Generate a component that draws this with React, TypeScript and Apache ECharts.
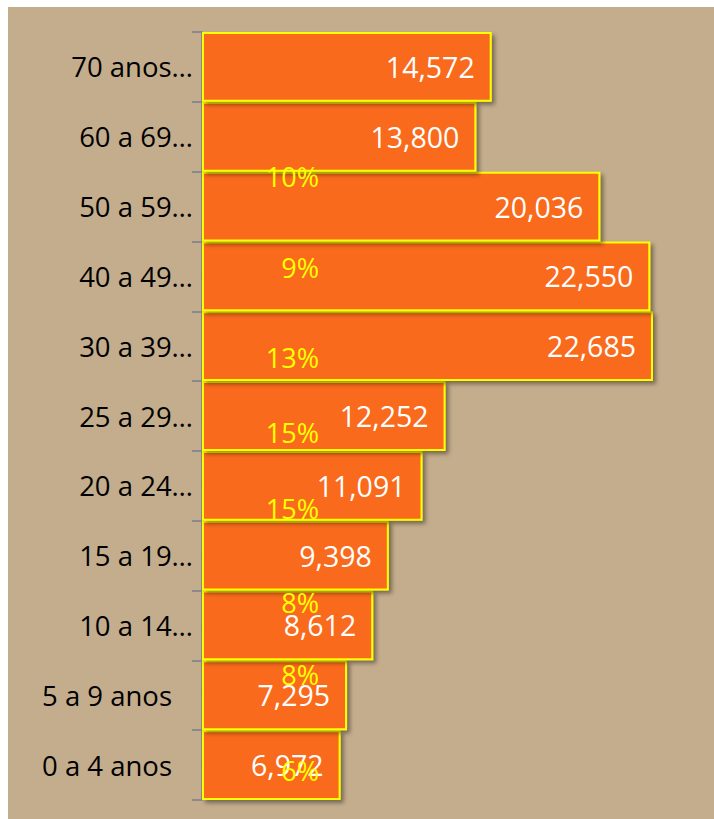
import React, { useEffect, useRef } from "react";
import * as echarts from "echarts";

const categories = [
  "0 a 4 anos",
  "5 a 9 anos",
  "10 a 14…",
  "15 a 19…",
  "20 a 24…",
  "25 a 29…",
  "30 a 39…",
  "40 a 49…",
  "50 a 59…",
  "60 a 69…",
  "70 anos…",
];
const population = [6972, 7295, 8612, 9398, 11091, 12252, 22685, 22550, 20036, 13800, 14572];
const pctLabels = ["6%", "8%", "8%", "15%", "15%", "13%", "9%", "10%"];
// label vertical shifts (style only)
const pctShift = [5, -21, -23, -47, -53, -59, -79, -100];

const FONT = "'Open Sans', sans-serif";

export default function App() {
  const ref = useRef<HTMLDivElement>(null);
  useEffect(() => {
    if (!ref.current) return;
    const chart = echarts.init(ref.current, null, { renderer: "svg" });
    chart.setOption({
      animation: false,
      backgroundColor: "#C4AD8C",
      grid: { left: 194, top: 25, bottom: 19, right: 15, outerBoundsMode: "none", containLabel: false },
      xAxis: {
        type: "value",
        min: 0,
        max: 25000,
        show: false,
      },
      yAxis: {
        type: "category",
        data: categories,
        axisLine: { show: true, lineStyle: { color: "#8A8A8A", width: 2 } },
        axisTick: { show: true, length: 10, lineStyle: { color: "#8A8A8A", width: 2 } },
        axisLabel: {
          margin: 9,
          color: "#000",
          fontFamily: FONT,
          fontSize: 27.5,
          formatter: (v: string) => (v.endsWith("anos") ? "{p|" + v + "}" : v),
          rich: { p: { fontFamily: FONT, fontSize: 27.5, color: "#000", padding: [0, 21, 0, 0] } },
        },
        splitLine: { show: false },
      },
      series: [
        {
          type: "bar",
          data: population,
          barCategoryGap: "0%",
          z: 2,
          itemStyle: {
            color: "#F96B1C",
            borderColor: "#FFFF00",
            borderWidth: 2,
            shadowBlur: 4,
            shadowColor: "rgba(0,0,0,0.4)",
            shadowOffsetX: 3,
            shadowOffsetY: 3,
          },
          label: {
            show: true,
            position: "insideRight",
            distance: 17,
            color: "#fff",
            fontFamily: FONT,
            fontSize: 28.5,
            formatter: (p: any) => Number(p.value).toLocaleString("en-US"),
          },
        },
        {
          type: "scatter",
          z: 10,
          zlevel: 1,
          symbol: "rect",
          symbolSize: 0.5,
          itemStyle: { color: "#F96B1C", opacity: 1 },
          data: pctLabels.map((_, i) => ({
            value: [0, i],
            label: { offset: [117, pctShift[i]] },
          })),
          label: {
            show: true,
            position: "inside",
            align: "right",
            verticalAlign: "middle",
            color: "#FFFF00",
            opacity: 1,
            textBorderWidth: 0,
            fontFamily: FONT,
            fontSize: 27,
            formatter: (p: any) => pctLabels[p.dataIndex],
          },
        },
      ],
    });
    return () => chart.dispose();
  }, []);
  return (
    <div
      ref={ref}
      style={{ position: "fixed", left: 8, top: 7, width: 706, height: 812 }}
    />
  );
}
